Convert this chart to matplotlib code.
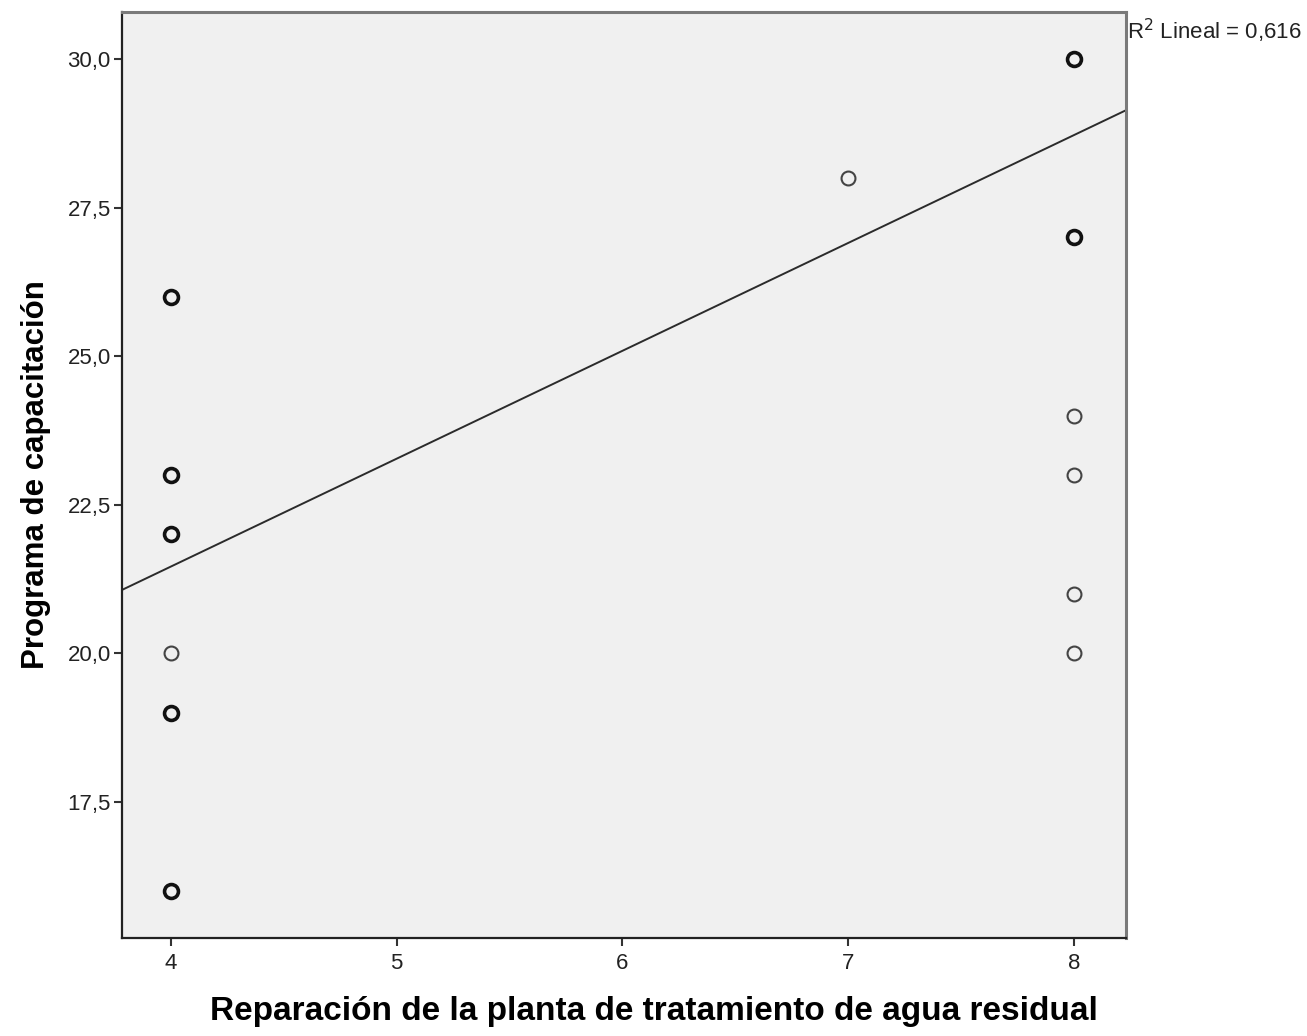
import numpy as np
import matplotlib.pyplot as plt
from matplotlib.ticker import FuncFormatter

plt.rcParams['font.family'] = ['Liberation Sans', 'DejaVu Sans']

# distinct (x, y) positions; counts > 1 are overlapping cases
reparacion = [4, 4, 4, 4, 4, 4, 7, 8, 8, 8, 8, 8, 8]
capacitacion = [26, 23, 22, 20, 19, 16, 28, 30, 27, 24, 23, 21, 20]
casos = [2, 2, 2, 1, 2, 2, 1, 2, 2, 1, 1, 1, 1]

# linear fit line
intercepto = 14.20
pendiente = 1.815
r2 = 0.616

fig = plt.figure(figsize=(13.07, 10.36), dpi=100)
ax = fig.add_axes([0.0933, 0.0946, 0.7682, 0.8938])
ax.set_facecolor('#f0f0f0')

ax.set_xlim(3.783, 8.23)
ax.set_ylim(15.21, 30.79)

xs = np.array(ax.get_xlim())
ax.plot(xs, intercepto + pendiente * xs, color='#2b2b2b', lw=1.4, zorder=2)

for x, y, n in zip(reparacion, capacitacion, casos):
    if n > 1:
        ax.plot(x, y, 'o', mfc='none', mec='#111111', mew=2.6, ms=10, zorder=3)
    else:
        ax.plot(x, y, 'o', mfc='none', mec='#444444', mew=1.5, ms=10, zorder=3)

ax.set_xticks([4, 5, 6, 7, 8])
ax.set_yticks([17.5, 20.0, 22.5, 25.0, 27.5, 30.0])
ax.yaxis.set_major_formatter(FuncFormatter(lambda v, p: f'{v:.1f}'.replace('.', ',')))
ax.tick_params(axis='both', direction='out', length=6, width=1.5, color='#333333',
               labelsize=16, labelcolor='#222222', pad=2)
ax.tick_params(axis='x', pad=5)

for side in ['left', 'bottom']:
    ax.spines[side].set_color('#222222')
    ax.spines[side].set_linewidth(1.6)
for side in ['top', 'right']:
    ax.spines[side].set_color('#7a7a7a')
    ax.spines[side].set_linewidth(2.2)

ax.set_xlabel('Reparación de la planta de tratamiento de agua residual',
              fontsize=24, fontweight='bold', labelpad=16)
ax.xaxis.label.set_x(0.53)  # centred on the figure rather than the axes
ax.set_ylabel('Programa de capacitación', fontsize=22.5, fontweight='bold', labelpad=12)

ax.text(1.001, 0.995, r'R$^2$ Lineal = ' + f'{r2:.3f}'.replace('.', ','),
        transform=ax.transAxes, ha='left', va='top', fontsize=16, color='#222222')

fig.savefig('out.png', dpi=100)
